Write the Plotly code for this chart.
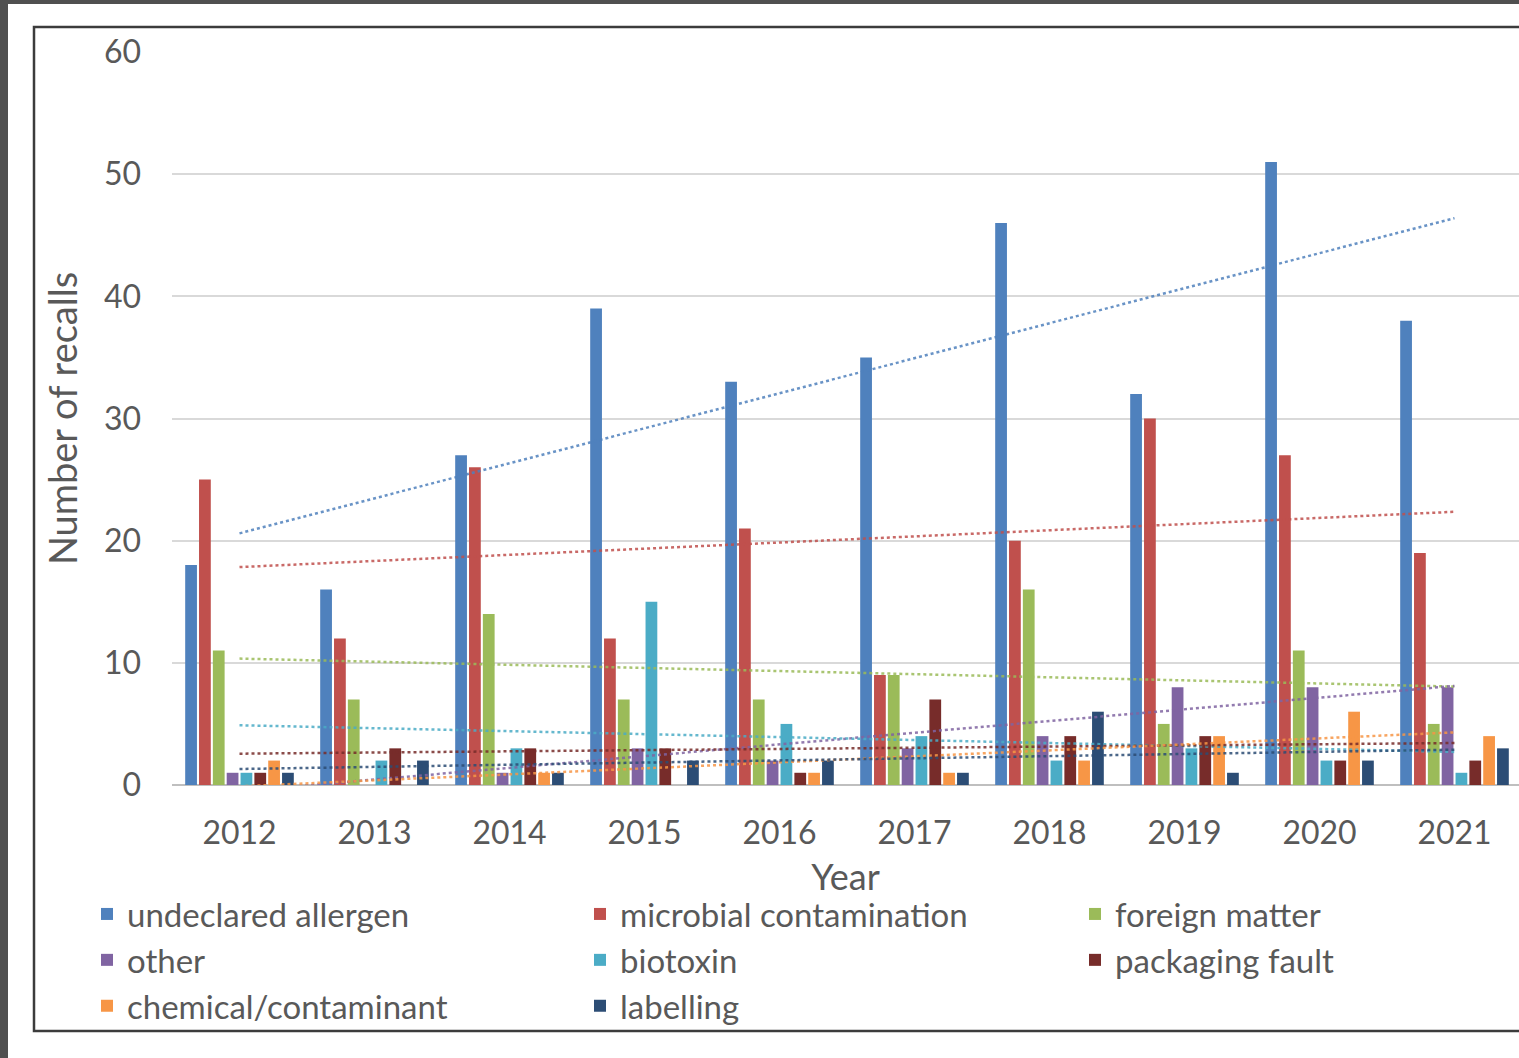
import numpy as np
import plotly.graph_objects as go

years = ["2012", "2013", "2014", "2015", "2016", "2017", "2018", "2019", "2020", "2021"]
undeclared_allergen = [18, 16, 27, 39, 33, 35, 46, 32, 51, 38]
microbial_contamination = [25, 12, 26, 12, 21, 9, 20, 30, 27, 19]
foreign_matter = [11, 7, 14, 7, 7, 9, 16, 5, 11, 5]
other = [1, 0, 1, 3, 2, 3, 4, 8, 8, 8]
biotoxin = [1, 2, 3, 15, 5, 4, 2, 3, 2, 1]
packaging_fault = [1, 3, 3, 3, 1, 7, 4, 4, 2, 2]
chemical_contaminant = [2, 0, 1, 0, 1, 1, 2, 4, 6, 4]
labelling = [1, 2, 1, 2, 2, 1, 6, 1, 2, 3]

series_names = ["undeclared allergen", "microbial contamination", "foreign matter", "other",
                "biotoxin", "packaging fault", "chemical/contaminant", "labelling"]
series_values = [undeclared_allergen, microbial_contamination, foreign_matter, other,
                 biotoxin, packaging_fault, chemical_contaminant, labelling]
colors = ["#4F81BD", "#C0504D", "#9BBB59", "#8064A2", "#4BACC6", "#772C2A", "#F79646", "#2C4D75"]
# legend column for each series (three columns laid out row by row)
legend_cols = ["legend", "legend2", "legend3", "legend", "legend2", "legend3", "legend", "legend2"]

W, H = 1519, 1058
L, R, T, B = 172, 0, 52, 273
pw, ph = W - L - R, H - T - B

def px_x(p):
    return (p - L) / pw

def px_y(p):
    return (H - B - p) / ph

fig = go.Figure()
for name, vals, col, lg in zip(series_names, series_values, colors, legend_cols):
    fig.add_trace(go.Bar(x=years, y=vals, name=name, legend=lg,
                         marker=dict(color=col, line=dict(width=0))))

idx = np.arange(len(years))
for name, vals, col in zip(series_names, series_values, colors):
    m, c = np.polyfit(idx, np.array(vals, dtype=float), 1)
    fig.add_trace(go.Scatter(x=years, y=m * idx + c, mode="lines", showlegend=False,
                             line=dict(color=col, width=2.5, dash="dot"), opacity=0.85,
                             hoverinfo="skip"))

text_col = "#595959"
font_family = "Lato, Open Sans, sans-serif"

shapes = [
    dict(type="rect", xref="paper", yref="paper", x0=px_x(8), x1=px_x(W + 5), y0=px_y(H + 5), y1=px_y(4),
         fillcolor="white", line=dict(width=0), layer="below"),
    dict(type="rect", xref="paper", yref="paper", x0=px_x(34), x1=px_x(W + 20), y0=px_y(1031), y1=px_y(27),
         fillcolor="rgba(0,0,0,0)", line=dict(color="#3c3c3c", width=2.5), layer="below"),
]

def legend_at(xpx):
    return dict(orientation="v", x=px_x(xpx), y=px_y(886), xanchor="left", yanchor="top",
                traceorder="normal", tracegroupgap=0,
                font=dict(size=33, color=text_col, family=font_family),
                bgcolor="rgba(0,0,0,0)")

fig.update_layout(
    width=W, height=H,
    margin=dict(l=L, r=R, t=T, b=B, pad=0),
    paper_bgcolor="#505050",
    plot_bgcolor="white",
    barmode="group",
    bargap=0.18,
    bargroupgap=0.15,
    font=dict(family=font_family, color=text_col, size=32),
    shapes=shapes,
    showlegend=True,
    legend=legend_at(87),
    legend2=legend_at(580),
    legend3=legend_at(1075),
    xaxis=dict(type="category", range=[-0.5, (W - L) / 135 - 0.5], showgrid=False,
               showline=False, ticks="", tickfont=dict(size=32, color=text_col),
               ticklabelstandoff=26,
               title=dict(text="Year", font=dict(size=36, color=text_col), standoff=14)),
    yaxis=dict(range=[0, 60], dtick=10, showgrid=True, gridcolor="#d9d9d9", gridwidth=1.5,
               zeroline=True, zerolinecolor="#bfbfbf", zerolinewidth=2,
               ticks="", tickfont=dict(size=32, color=text_col), ticklabelstandoff=30,
               title=dict(text="Number of recalls", font=dict(size=38, color=text_col), standoff=14)),
)

fig.write_html("out.html")
